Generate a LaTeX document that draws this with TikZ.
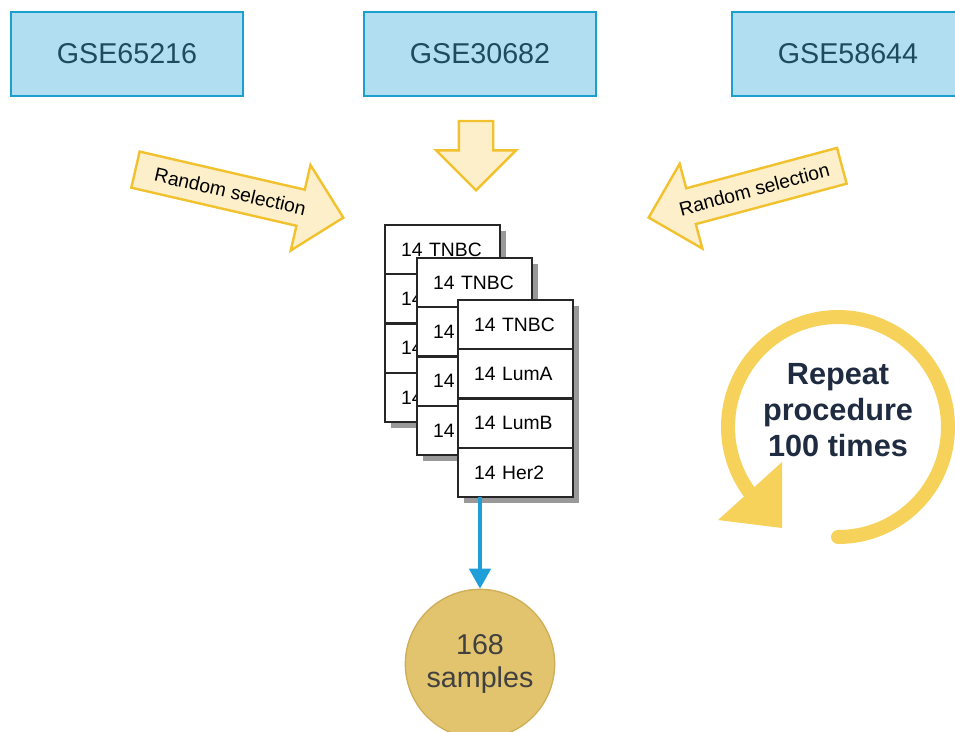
\documentclass[tikz,border=0pt]{standalone}
\usepackage{fontspec}
\setmainfont{Liberation Sans}
\usetikzlibrary{arrows.meta, shapes.arrows}

\definecolor{boxfill}{HTML}{B2DEF1}
\definecolor{boxline}{HTML}{1B9FCF}
\definecolor{boxtext}{HTML}{1E4B5E}
\definecolor{arrowfill}{HTML}{FCEFC9}
\definecolor{arrowline}{HTML}{F2C12E}
\definecolor{ringcol}{HTML}{F6D25A}
\definecolor{samplefill}{HTML}{E2C46E}
\definecolor{sampleline}{HTML}{CFAE55}
\definecolor{flowblue}{HTML}{1E9FD9}
\definecolor{navy}{HTML}{1F2B40}

\begin{document}
\begin{tikzpicture}[x=0.75pt,y=-0.75pt,
  dataset/.style={draw=boxline,line width=2pt,fill=boxfill,text=boxtext,
    minimum width=174pt,minimum height=63pt,font=\fontsize{21.5}{24}\selectfont},
  bigarrow/.style={single arrow,draw=arrowline,line width=1.8pt,fill=arrowfill,
    single arrow head extend=19pt,text height=10.5pt,text depth=0pt,
    inner ysep=7.75pt,inner xsep=4pt,font=\fontsize{14.5}{16}\selectfont},
  cell/.style={draw=black!85,line width=1.8pt,fill=white,outer sep=0pt,
    minimum height=37pt,text width=62pt,inner xsep=12pt,align=left,
    font=\fontsize{14.5}{16}\selectfont},
  flow/.style={flowblue,line width=2.8pt,-{Triangle[width=16pt,length=15pt]}},
  ring/.style={ringcol,line width=10.5pt,line cap=round}]

  \clip (0,0) rectangle (955,731);

  % data sets
  \node[dataset] (gse1) at (127,54) {GSE65216};
  \node[dataset] (gse2) at (480,54) {GSE30682};
  \node[dataset] (gse3) at (848,54) {GSE58644};

  % selection arrows
  \node[bigarrow,rotate=-13,anchor=tip,minimum height=160pt] (pickleft) at (345,218) {Random selection};
  \node[bigarrow,rotate=-90,anchor=tip,minimum height=52pt,text height=0pt,
    inner ysep=12pt,inner xsep=0pt,single arrow head extend=17pt] (pickdown) at (476,192) {};
  \node[bigarrow,shape border rotate=180,rotate=15,anchor=tip,minimum height=150pt] (pickright) at (647,218) {Random selection};

  % stacked sample cards
  \foreach \c/\x/\y in {1/385/225, 2/417/258, 3/458/300} {
    \fill[black!40] (\x+6,\y+6) rectangle (\x+121,\y+203);
    \foreach \lab [count=\r] in {TNBC,LumA,LumB,Her2}
      \node[cell] (card\c-\r) at (\x+57.5,\y+24.65+49.3*\r-49.3) {14 \lab};
  }

  % pooled samples
  \node[circle,draw=sampleline,line width=1pt,fill=samplefill,minimum size=112pt,
    align=center,text=black!75,font=\fontsize{21.5}{25}\selectfont] (samples) at (480,664) {168\\samples};
  \draw[flow] (samples.north |- card3-4.south) -- (samples.north);

  % repeat loop
  \coordinate (loop) at (838,427);
  \draw[ring] (loop) ++(90:110) arc[start angle=90,end angle=-216,radius=110];
  \fill[ringcol] (782,462) -- (718,520) -- (782,528) -- cycle;
  \node[font=\bfseries\fontsize{23}{27}\selectfont,text=navy,align=center] (repeat) at (838,410) {Repeat\\procedure\\100 times};
\end{tikzpicture}
\end{document}
